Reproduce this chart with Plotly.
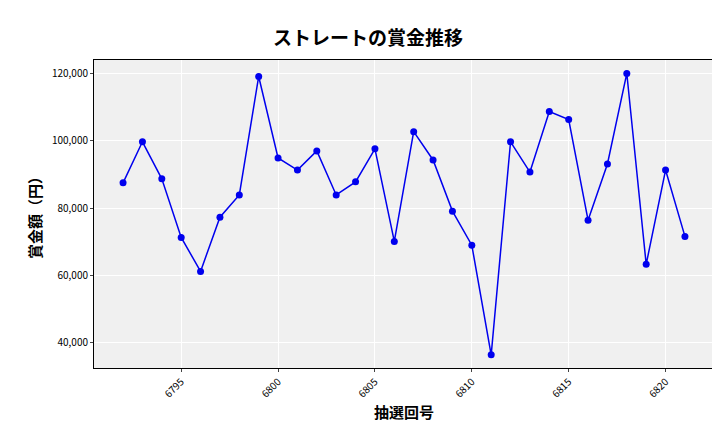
import plotly.graph_objects as go

draws = list(range(6792, 6822))
prizes = [87500, 99700, 88700, 71300, 61200, 77300, 83900, 119100, 94900, 91300,
          97000, 83900, 87800, 97600, 70100, 102700, 94300, 79100, 69000, 36400,
          99700, 90700, 108700, 106300, 76400, 93100, 120000, 63300, 91300, 71600]
xticks = [6795, 6800, 6805, 6810, 6815, 6820]
yticks = [40000, 60000, 80000, 100000, 120000]

fig = go.Figure(go.Scatter(x=draws, y=prizes, mode="lines+markers",
                           line=dict(color="#0000ee", width=1.5),
                           marker=dict(color="#0000ee", size=7)))
font = "Noto Sans CJK JP"
fig.update_layout(
    width=720, height=432, paper_bgcolor="white", plot_bgcolor="#f0f0f0",
    margin=dict(l=86, r=14, t=52, b=72, autoexpand=False),
    title=dict(text="<b>ストレートの賞金推移</b>", x=0.5, y=0.945, xanchor="center",
               font=dict(family=font, size=19, color="black")),
    font=dict(family=font, color="black"), showlegend=False,
)
fig.update_xaxes(range=[6790.5, 6822.5], tickvals=xticks, tickangle=-45,
                 tickfont=dict(size=10), gridcolor="white", showline=True,
                 linecolor="black", mirror=True, ticks="outside", ticklen=3,
                 automargin=False,
                 title=dict(text="<b>抽選回号</b>", font=dict(size=15), standoff=8), zeroline=False)
fig.update_yaxes(range=[32500, 124000], tickvals=yticks, tickformat=",",
                 tickfont=dict(size=10), gridcolor="white", showline=True,
                 linecolor="black", mirror=True, ticks="outside", ticklen=3,
                 automargin=False,
                 title=dict(text="<b>賞金額（円）</b>", font=dict(size=15), standoff=6), zeroline=False)
fig.write_html("out.html")
